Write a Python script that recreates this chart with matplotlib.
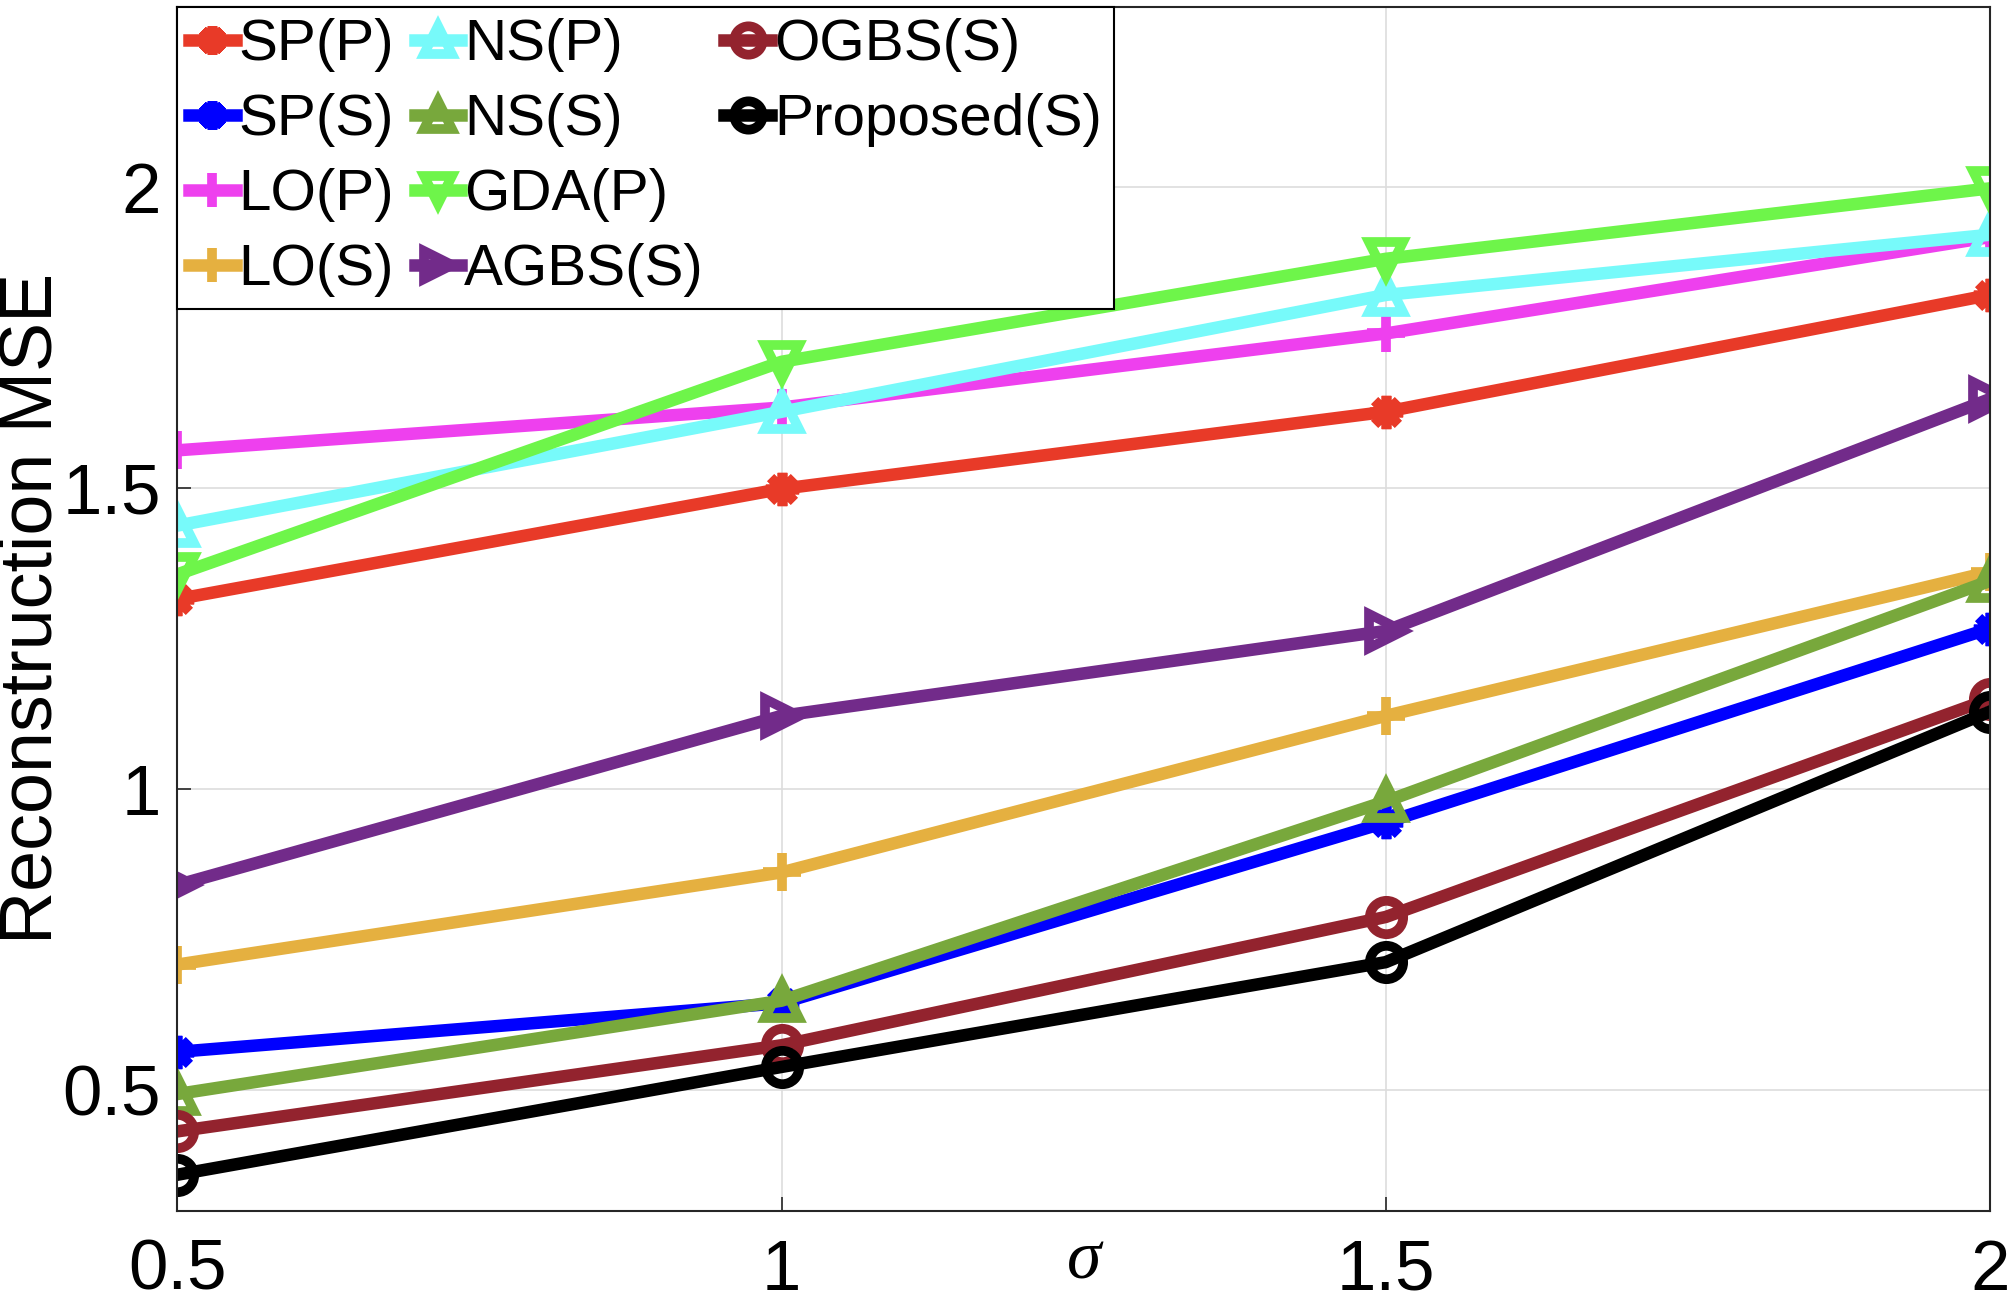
import matplotlib
matplotlib.use('Agg')
import matplotlib.pyplot as plt
from matplotlib.lines import Line2D

# sigma values on the x axis
sigma = [0.5, 1, 1.5, 2]

# reconstruction MSE per method
sp_p = [1.316, 1.499, 1.627, 1.821]
sp_s = [0.564, 0.645, 0.945, 1.267]
lo_p = [1.563, 1.634, 1.757, 1.917]
lo_s = [0.709, 0.862, 1.122, 1.361]
ns_p = [1.438, 1.627, 1.821, 1.921]
ns_s = [0.494, 0.649, 0.980, 1.346]
gda_p = [1.357, 1.710, 1.881, 1.998]
agbs_s = [0.841, 1.122, 1.263, 1.648]
ogbs_s = [0.432, 0.575, 0.788, 1.150]
proposed_s = [0.360, 0.539, 0.713, 1.129]

labels = ['SP(P)', 'SP(S)', 'LO(P)', 'LO(S)', 'NS(P)', 'NS(S)',
          'GDA(P)', 'AGBS(S)', 'OGBS(S)', 'Proposed(S)']
series = [sp_p, sp_s, lo_p, lo_s, ns_p, ns_s, gda_p, agbs_s, ogbs_s, proposed_s]
colors = ['#E83A28', '#0000FF', '#EE40EE', '#E5B040', '#77FAFA', '#78A83C',
          '#6EF54A', '#722B8A', '#93232E', '#000000']
markers = [(8, 2, 0), (8, 2, 0), '+', '+', '^', '^', 'v', '>', 'o', 'o']

xticks = [0.5, 1, 1.5, 2]
xticklabels = ['0.5', '1', '1.5', '2']
yticks = [0.5, 1, 1.5, 2]
yticklabels = ['0.5', '1', '1.5', '2']

plt.rcParams['font.family'] = ['Liberation Sans', 'DejaVu Sans']

fig = plt.figure(figsize=(20.16, 13.02), dpi=100)
ax = fig.add_axes([0.088, 0.070, 0.899, 0.925])

handles = []
for y, lab, c, m in zip(series, labels, colors, markers):
	if m == '+':
		ms = 28
	else:
		ms = 24
	h, = ax.plot(sigma, y, color=c, lw=9, marker=m, ms=ms, mew=7,
		mfc='none', mec=c, label=lab)
	handles.append(h)

ax.set_xlim(0.5, 2)
ax.set_ylim(0.3, 2.3)
ax.set_xticks(xticks)
ax.set_xticklabels(xticklabels)
ax.set_yticks(yticks)
ax.set_yticklabels(yticklabels)
ax.tick_params(axis='both', direction='in', length=10, width=1.2, labelsize=51, colors='#262626')
ax.tick_params(axis='x', pad=20)
ax.tick_params(axis='y', pad=12)
for lbl in ax.get_xticklabels() + ax.get_yticklabels():
	lbl.set_color('black')
ax.grid(True, color='#DDDDDD', lw=1.2)
ax.set_axisbelow(True)
for s in ax.spines.values():
	s.set_color('#262626')
	s.set_linewidth(1.5)

ax.set_ylabel('Reconstruction MSE', fontsize=53)
ax.yaxis.set_label_coords(-0.061, 0.5)
ax.set_xlabel('\u03c3', fontsize=50, family=['Liberation Serif', 'DejaVu Serif'], style='italic')
ax.xaxis.label.set_va('center')
ax.xaxis.set_label_coords(0.5, -0.042)

# two blank entries so columns split 4,4,2 like the original
blank = Line2D([], [], color='none')
leg_handles = handles + [blank, blank]
leg_labels = labels + ['', '']
leg = ax.legend(leg_handles, leg_labels, loc='upper left', ncol=3, fontsize=42,
	frameon=True, fancybox=False, edgecolor='black', borderaxespad=0,
	handlelength=0.8, handletextpad=0.05, columnspacing=0.35, labelspacing=0.36,
	borderpad=0.2, markerscale=0.85)
leg.get_frame().set_linewidth(1.5)
leg.get_frame().set_alpha(1)

fig.savefig('out.png', dpi=100)
